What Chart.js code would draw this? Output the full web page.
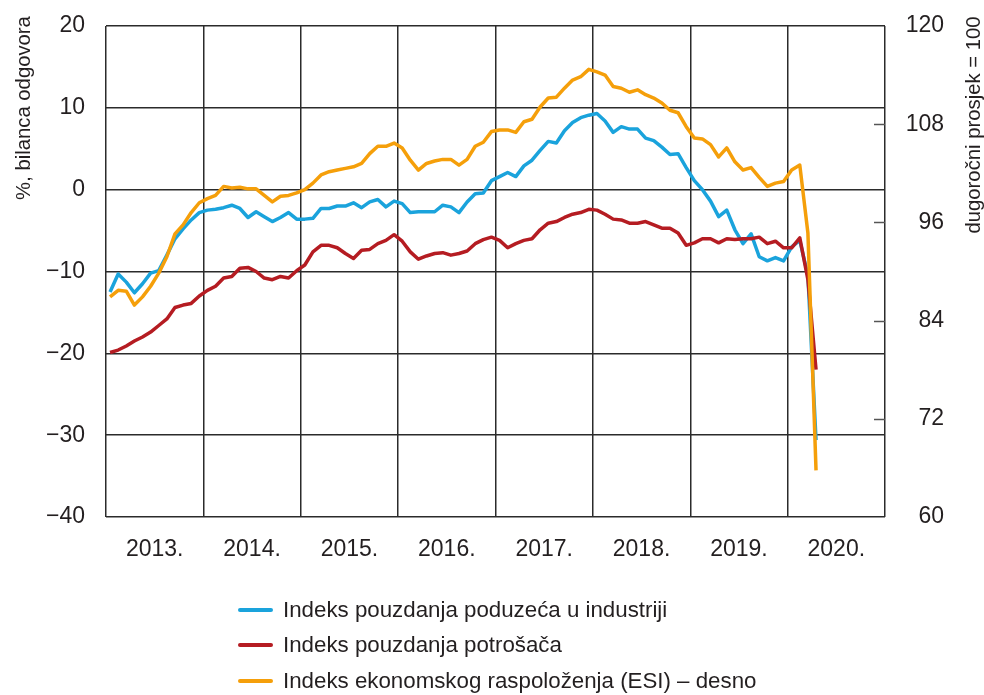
<!DOCTYPE html>
<html><head><meta charset="utf-8">
<script src="https://cdn.jsdelivr.net/npm/chart.js@4/dist/chart.umd.min.js"></script>
<style>
html,body{margin:0;padding:0;background:#fff;}
#wrap{position:relative;width:984px;height:695px;}
#c{position:absolute;left:0;top:0;}
#legend{position:absolute;left:238px;top:592px;font-family:"Liberation Sans",Arial,sans-serif;font-size:22.3px;color:#231f20;}
.li{display:flex;align-items:center;height:35.5px;}
.sw{width:35px;height:4px;margin-right:10px;border-radius:2px;}
</style></head>
<body><div id="wrap"><canvas id="c" width="984" height="695"></canvas><div id="legend"></div></div>
<script>
const yearLabels = ['2013.','2014.','2015.','2016.','2017.','2018.','2019.','2020.'];
const leftTicks = [-40,-30,-20,-10,0,10,20];
const rightTicks = [60,72,84,96,108,120];
const seriesNames = ['Indeks pouzdanja poduzeća u industriji','Indeks pouzdanja potrošača','Indeks ekonomskog raspoloženja (ESI) – desno'];
// monthly, Jan 2013 - Apr 2020
const industry = [
 -12.5,-10.3,-11.3,-12.6,-11.5,-10.2,-9.9,-8.0,-6.0,-4.8,-3.7,-2.8,
 -2.5,-2.4,-2.2,-1.9,-2.3,-3.4,-2.7,-3.3,-3.9,-3.4,-2.8,-3.6,
 -3.6,-3.5,-2.3,-2.3,-2.0,-2.0,-1.6,-2.2,-1.5,-1.2,-2.1,-1.4,
 -1.7,-2.8,-2.7,-2.7,-2.7,-1.9,-2.1,-2.8,-1.5,-0.5,-0.4,1.1,
 1.6,2.1,1.6,2.9,3.6,4.8,5.9,5.7,7.2,8.2,8.8,9.1,
 9.3,8.4,7.0,7.7,7.4,7.4,6.3,6.0,5.2,4.3,4.4,2.7,
 1.1,0.0,-1.4,-3.3,-2.5,-4.9,-6.6,-5.4,-8.2,-8.7,-8.3,-8.7,
 -7.0,-6.2,-10.5,-30.6];
const consumer = [
 -19.9,-19.6,-19.1,-18.5,-18.0,-17.4,-16.6,-15.8,-14.4,-14.1,-13.9,-13.0,
 -12.3,-11.8,-10.8,-10.6,-9.6,-9.5,-10.0,-10.8,-11.0,-10.6,-10.8,-9.9,
 -9.2,-7.6,-6.8,-6.8,-7.1,-7.8,-8.4,-7.4,-7.3,-6.6,-6.2,-5.5,
 -6.3,-7.6,-8.5,-8.1,-7.8,-7.7,-8.0,-7.8,-7.5,-6.6,-6.1,-5.8,
 -6.2,-7.1,-6.6,-6.2,-6.0,-4.9,-4.1,-3.9,-3.4,-3.0,-2.8,-2.4,
 -2.5,-3.0,-3.6,-3.7,-4.1,-4.1,-3.9,-4.3,-4.7,-4.7,-5.3,-6.8,
 -6.5,-6.0,-6.0,-6.5,-6.0,-6.1,-6.0,-6.0,-5.8,-6.6,-6.3,-7.1,
 -7.1,-5.9,-11.0,-22.0];
const esi = [
 86.9,87.7,87.6,85.9,86.9,88.2,89.8,91.8,94.6,95.7,97.2,98.4,
 98.9,99.3,100.4,100.2,100.3,100.1,100.1,99.3,98.5,99.2,99.3,99.6,
 100.0,100.8,101.8,102.2,102.4,102.6,102.8,103.2,104.4,105.3,105.3,105.7,
 105.1,103.6,102.4,103.2,103.5,103.7,103.7,103.0,103.7,105.3,105.8,107.1,
 107.3,107.3,107.0,108.3,108.6,110.1,111.2,111.3,112.4,113.4,113.8,114.7,
 114.4,114.0,112.6,112.4,111.9,112.2,111.6,111.2,110.6,109.7,109.4,107.7,
 106.3,106.2,105.5,104.0,105.1,103.4,102.4,102.7,101.5,100.4,100.8,101.0,
 102.4,103.0,94.7,65.7];

const FONT = '"Liberation Sans",Arial,sans-serif';
const TXT = '#231f20';
const GRID = '#2b2b2b';
const colors = ['#1aa3dc','#b51c22','#f59f0a'];
// month positions: centre of each month, in months since Jan 2013
const toPts = arr => arr.map((v,i)=>({x:i+0.5,y:v}));

const extras = {
  id:'extras',
  afterDraw(chart){
    const ctx = chart.ctx, a = chart.chartArea, y1 = chart.scales.y1;
    ctx.save();
    ctx.strokeStyle = '#555'; ctx.lineWidth = 1.5;
    rightTicks.slice(1,-1).forEach(t=>{
      const py = Math.round(y1.getPixelForValue(t))+0.5;
      ctx.beginPath(); ctx.moveTo(a.right-11,py); ctx.lineTo(a.right,py); ctx.stroke();
    });
    ctx.fillStyle = TXT;
    ctx.font = '20.3px '+FONT;
    ctx.textAlign='center'; ctx.textBaseline='middle';
    ctx.translate(24,108); ctx.rotate(-Math.PI/2);
    ctx.fillText('%, bilanca odgovora',0,0);
    ctx.setTransform(1,0,0,1,0,0);
    ctx.translate(974,125); ctx.rotate(-Math.PI/2);
    ctx.fillText('dugoročni prosjek = 100',0,0);
    ctx.restore();
  }
};
const noPad = s => { s.paddingTop = 0; s.paddingBottom = 0; };

const chart = new Chart(document.getElementById('c'),{
  type:'line',
  data:{datasets:[
    {label:seriesNames[0],data:toPts(industry),borderColor:colors[0],yAxisID:'y',order:2},
    {label:seriesNames[1],data:toPts(consumer),borderColor:colors[1],yAxisID:'y',order:1},
    {label:seriesNames[2],data:toPts(esi),borderColor:colors[2],yAxisID:'y1',order:0}
  ]},
  options:{
    responsive:false,animation:false,
    layout:{padding:{top:26,bottom:118,left:0,right:40}},
    elements:{line:{borderWidth:3.5,tension:0,borderCapStyle:'butt',borderJoinStyle:'round'},point:{radius:0}},
    plugins:{legend:{display:false},tooltip:{enabled:false}},
    scales:{
      x:{type:'linear',min:0,max:96,position:'bottom',
        ticks:{display:false,stepSize:12},
        grid:{color:GRID,lineWidth:1.5,drawTicks:false},border:{display:false},
        afterFit(s){s.height=0;}},
      xYear:{type:'linear',min:0,max:96,position:'bottom',
        afterBuildTicks(s){s.ticks=yearLabels.map((_,i)=>({value:6+12*i}));},
        ticks:{autoSkip:false,maxRotation:0,padding:19,color:TXT,font:{family:FONT,size:23},
          callback:v=>yearLabels[Math.round((v-6)/12)]},
        grid:{display:false,drawTicks:false},border:{display:false},
        afterFit(s){s.height=60;}},
      y:{position:'left',min:-40,max:20,
        afterBuildTicks(s){s.ticks=leftTicks.map(v=>({value:v}));},
        ticks:{padding:21,color:TXT,font:{family:FONT,size:23},callback:v=>String(v).replace('-','\u2212')},
        grid:{color:GRID,lineWidth:1.5,drawTicks:false},border:{display:false},
        afterFit(s){s.width=106; noPad(s);}},
      y1:{position:'right',min:60,max:120,
        afterBuildTicks(s){s.ticks=rightTicks.map(v=>({value:v}));},
        ticks:{padding:18,crossAlign:'far',color:TXT,font:{family:FONT,size:23}},
        grid:{display:false,drawTicks:false},border:{display:false},
        afterFit(s){s.width=59; noPad(s);}}
    }
  },
  plugins:[extras]
});

const lg = document.getElementById('legend');
chart.data.datasets.forEach(ds=>{
  const d=document.createElement('div'); d.className='li';
  const s=document.createElement('span'); s.className='sw'; s.style.background=ds.borderColor;
  const t=document.createElement('span'); t.textContent=ds.label;
  d.appendChild(s); d.appendChild(t); lg.appendChild(d);
});
</script></body></html>
